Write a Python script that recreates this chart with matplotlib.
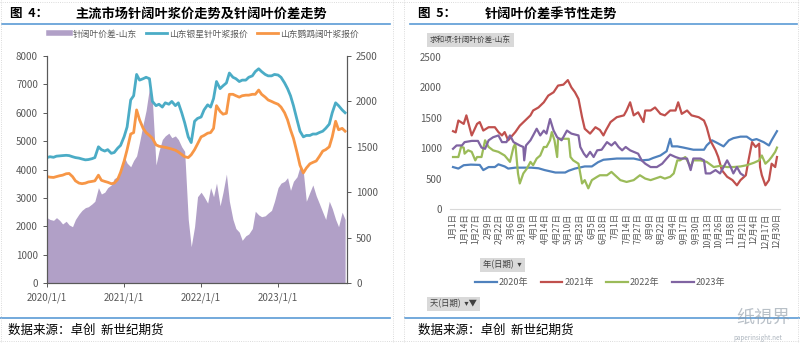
import matplotlib.pyplot as plt
from matplotlib.lines import Line2D
import pandas as pd

plt.rcParams['font.family'] = ['Noto Sans CJK SC', 'DejaVu Sans']

# ---- 图4 数据 (半月取点, 2020/1/1 ~ 2023/11/15)
dates = pd.date_range('2020-01-01', '2023-11-15', freq='SMS')

yinxing = [  # 山东银星针叶浆报价
    4420, 4450, 4430, 4470, 4480, 4490, 4500, 4490, 4450, 4420, 4400, 4370,
    4340, 4350, 4380, 4420, 4800, 4700, 4650, 4700, 4570, 4600, 4750, 4850,
    5160, 5500, 6450, 6600, 7350, 7150, 7200, 7250, 7200, 6400, 6250, 6300,
    6200, 6350, 6300, 6400, 6250, 6350, 6000, 5650, 5150, 4950, 5700, 5800,
    5850, 6100, 6280, 6200, 6500, 7100, 6850, 6950, 7050, 7400, 7250, 7200,
    7100, 7150, 7150, 7250, 7300, 7450, 7550, 7450, 7350, 7300, 7300, 7350,
    7330, 7250, 7050, 6850, 6600, 6250, 5750, 5350, 5150, 5200, 5200, 5250,
    5250, 5300, 5350, 5450, 5600, 6000, 6350, 6250, 6100, 6000]
yingwu = [  # 山东鹦鹉阔叶浆报价
    3750, 3730, 3720, 3750, 3780, 3800, 3850, 3860, 3750, 3600, 3520, 3500,
    3520, 3560, 3580, 3600, 3800, 3620, 3580, 3550, 3500, 3520, 3650, 3900,
    4300, 4700, 5250, 5300, 6100, 5750, 5450, 5300, 5200, 5100, 4870, 4820,
    4800, 4780, 4750, 4720, 4680, 4620, 4530, 4450, 4420, 4520, 4700, 4900,
    5150, 5200, 5280, 5300, 5450, 6250, 6050, 5950, 5980, 6650, 6650, 6600,
    6550, 6600, 6620, 6620, 6650, 6650, 6800, 6650, 6550, 6450, 6400, 6350,
    6300, 6200, 6000, 5750, 5400, 5100, 4600, 4150, 3880, 4050, 4200, 4250,
    4300, 4450, 4650, 4700, 4800, 5150, 5700, 5400, 5450, 5350]
spread = [  # 针阔叶价差-山东 (右轴)
    720, 700, 690, 720, 690, 650, 680, 640, 620, 700, 760, 800,
    830, 840, 870, 900, 1050, 980, 1000, 1050, 1080, 1150, 1170, 1250,
    1390, 1320, 1280, 1350, 1400, 1550, 1750, 1900, 2150, 2000, 1300, 1450,
    1580, 1620, 1650, 1600, 1620, 1580, 1500, 1450, 700, 400, 620, 950,
    1000, 950, 880, 1050, 950, 1100, 850, 1000, 1200, 900, 700, 600,
    560, 470, 520, 540, 600, 790, 750, 730, 740, 770, 800, 900,
    1050, 1100, 1120, 1160, 1020, 1120, 1170, 1280, 1220, 900, 1000, 1080,
    960, 880, 780, 700, 900, 820, 700, 620, 780, 700]
year_ticks = ['2020-01-01', '2021-01-01', '2022-01-01', '2023-01-01']
year_labels = ['2020/1/1', '2021/1/1', '2022/1/1', '2023/1/1']

# ---- 图5 数据 (日序号, 价差)
s2020 = [(0, 690), (6, 665), (12, 720), (20, 730), (30, 725), (34, 640), (40, 690),
         (47, 690), (51, 735), (58, 700), (62, 665), (70, 680), (80, 680), (88, 680),
         (96, 670), (103, 640), (115, 600), (126, 600), (130, 630), (137, 665),
         (148, 700), (156, 700), (163, 770), (169, 810), (184, 830), (203, 830),
         (212, 800), (220, 810), (225, 840), (233, 880), (240, 950), (244, 1155),
         (246, 1030), (252, 1030), (259, 1010), (270, 975), (282, 975), (285, 1045),
         (291, 1130), (297, 1085), (304, 1030), (310, 1130), (315, 1165), (323, 1190),
         (330, 1190), (336, 1130), (341, 1150), (349, 1100), (355, 1045), (358, 1130),
         (364, 1280)]
s2021 = [(0, 1280), (3, 1260), (6, 1455), (12, 1400), (15, 1540), (21, 1210), (27, 1400),
         (30, 1430), (34, 1290), (40, 1345), (47, 1345), (51, 1265), (55, 1210), (58, 1265),
         (62, 1130), (70, 1265), (75, 1370), (81, 1455), (87, 1540), (90, 1620), (96, 1670),
         (102, 1755), (107, 1865), (113, 1920), (118, 2030), (124, 2045), (129, 2120),
         (133, 2000), (137, 1920), (141, 1810), (145, 1510), (148, 1320), (154, 1240),
         (160, 1345), (165, 1300), (169, 1210), (172, 1300), (177, 1430), (184, 1510),
         (192, 1540), (195, 1620), (199, 1755), (203, 1540), (208, 1590), (214, 1430),
         (216, 1620), (222, 1620), (227, 1670), (233, 1565), (238, 1540), (244, 1620),
         (250, 1620), (253, 1755), (257, 1565), (263, 1620), (268, 1540), (276, 1510),
         (282, 1455), (285, 1345), (289, 1130), (295, 965), (298, 855), (302, 640),
         (308, 530), (314, 475), (319, 390), (323, 475), (329, 555), (332, 800),
         (336, 1100), (340, 1020), (344, 1075), (345, 690), (347, 555), (351, 390),
         (355, 475), (358, 745), (362, 690), (364, 855)]
s2022 = [(0, 855), (6, 855), (9, 1020), (12, 1010), (13, 910), (17, 965), (21, 940),
         (25, 800), (27, 855), (32, 855), (36, 1130), (40, 1020), (45, 965), (51, 940),
         (58, 880), (64, 775), (68, 1020), (70, 1075), (72, 745), (73, 585), (75, 420),
         (79, 585), (83, 665), (87, 775), (90, 720), (94, 830), (98, 880), (102, 1020),
         (105, 1020), (109, 1130), (111, 1265), (114, 1130), (117, 855), (118, 1155),
         (124, 1155), (130, 1155), (132, 855), (135, 800), (141, 745), (145, 420),
         (148, 475), (152, 340), (156, 475), (162, 530), (165, 555), (173, 555),
         (178, 610), (182, 555), (188, 475), (195, 445), (203, 475), (210, 555),
         (216, 500), (222, 475), (227, 500), (233, 530), (238, 500), (244, 530),
         (248, 585), (252, 800), (255, 800), (261, 855), (267, 690), (270, 800),
         (278, 800), (285, 775), (293, 690), (300, 710), (308, 690), (315, 690),
         (323, 700), (330, 720), (338, 760), (344, 800), (347, 880), (351, 745),
         (355, 800), (358, 855), (362, 940), (364, 1010)]
s2023 = [(0, 990), (4, 1045), (10, 1045), (13, 1100), (21, 1120), (28, 1120), (32, 1010),
         (36, 990), (40, 1130), (45, 1180), (51, 1210), (55, 1100), (60, 1100), (64, 1210),
         (68, 1100), (75, 1045), (79, 1020), (80, 800), (82, 1045), (87, 1130), (90, 1210),
         (94, 1320), (98, 1210), (102, 1290), (105, 1240), (109, 1480), (113, 1290),
         (117, 1180), (122, 1130), (128, 1290), (133, 1240), (141, 1210), (143, 1020),
         (147, 910), (150, 855), (154, 940), (158, 855), (162, 965), (167, 975),
         (173, 1100), (178, 1045), (182, 1100), (186, 1020), (190, 965), (194, 1020),
         (199, 965), (203, 940), (208, 910), (212, 800), (216, 745), (222, 690),
         (229, 690), (235, 745), (240, 830), (244, 895), (250, 855), (255, 830),
         (263, 830), (267, 640), (270, 830), (278, 830), (282, 800), (284, 585),
         (289, 585), (295, 640), (300, 585), (304, 690), (308, 800), (312, 690),
         (315, 585), (319, 690), (323, 585), (326, 555)]
season = {'2020年': s2020, '2021年': s2021, '2022年': s2022, '2023年': s2023}
day_labels = ['1月1日', '1月14日', '1月27日', '2月9日', '2月22日', '3月6日', '3月19日',
              '4月1日', '4月14日', '4月27日', '5月10日', '5月23日', '6月5日', '6月18日',
              '7月1日', '7月14日', '7月27日', '8月9日', '8月22日', '9月4日', '9月17日',
              '9月30日', '10月13日', '10月26日', '11月8日', '11月21日', '12月4日',
              '12月17日', '12月30日']

GRAY = '#595959'
W, H = 800, 343


def fx(px):
    return px / W


def fy(py):
    return 1 - py / H


fig = plt.figure(figsize=(8, 3.43), dpi=100)

# ---------------- 图4 ----------------
ax = fig.add_axes([fx(47), fy(283), (347 - 47) / W, (283 - 56) / H])
ax2 = ax.twinx()
ax2.fill_between(dates, spread, 0, color='#b1a0c7', lw=0)
ax.plot(dates, yinxing, color='#4bacc6', lw=2)
ax.plot(dates, yingwu, color='#f79646', lw=2)
ax.set_zorder(ax2.get_zorder() + 1)
ax.patch.set_visible(False)

ax.set_xlim(pd.Timestamp('2020-01-01'), pd.Timestamp('2023-11-24'))
ax.set_ylim(0, 8000)
ax2.set_ylim(0, 2500)
ax.set_yticks(range(0, 8001, 1000))
ax2.set_yticks(range(0, 2501, 500))
ax.set_xticks(pd.to_datetime(year_ticks))
ax.set_xticklabels(year_labels)
for a in (ax, ax2):
    a.tick_params(labelsize=7, labelcolor=GRAY, color=GRAY, length=3, width=0.7)
    a.spines['top'].set_visible(False)
    for s in ('left', 'right', 'bottom'):
        a.spines[s].set_color(GRAY)
        a.spines[s].set_linewidth(0.8)

handles = [Line2D([], [], color='#b1a0c7', lw=4),
           Line2D([], [], color='#4bacc6', lw=2),
           Line2D([], [], color='#f79646', lw=2)]
fig.legend(handles, ['针阔叶价差-山东', '山东银星针叶浆报价', '山东鹦鹉阔叶浆报价'],
           loc='center', bbox_to_anchor=(fx(204), fy(34)), ncol=3, frameon=False,
           fontsize=6.3, labelcolor=GRAY, handlelength=2.4, handletextpad=0.3,
           columnspacing=1.0)

fig.text(fx(10), fy(14), '图  4：', fontsize=9, weight='bold', va='center')
fig.text(fx(75), fy(14), '主流市场针阔叶浆价走势及针阔叶价差走势', fontsize=9.5,
         weight='bold', va='center')
fig.text(fx(8), fy(330), '数据来源：卓创  新世纪期货', fontsize=9, va='center')

# ---------------- 图5 ----------------
bx = fig.add_axes([fx(450), fy(209), (780 - 450) / W, (209 - 57) / H])
colors = ['#4f81bd', '#c0504d', '#9bbb59', '#8064a2']
for (name, pts), c in zip(season.items(), colors):
    d = [p[0] for p in pts]
    v = [p[1] for p in pts]
    bx.plot(d, v, color=c, lw=1.6, label=name)
bx.set_xlim(-3.4, 367.4)
bx.set_ylim(0, 2500)
bx.set_yticks(range(0, 2501, 500))
bx.set_xticks(range(0, 365, 13))
bx.set_xticklabels(day_labels, rotation=90)
bx.tick_params(axis='x', labelsize=6, labelcolor=GRAY, length=0, pad=3)
bx.tick_params(axis='y', labelsize=7, labelcolor=GRAY, length=0, pad=6)
for s in ('top', 'right', 'left'):
    bx.spines[s].set_visible(False)
bx.spines['bottom'].set_color('#d9d9d9')

fig.legend(*bx.get_legend_handles_labels(), loc='center',
           bbox_to_anchor=(fx(600), fy(283)), ncol=4, frameon=False, fontsize=6.5,
           labelcolor=GRAY, handlelength=2.4, handletextpad=0.2, columnspacing=1.4)

btn = dict(boxstyle='square,pad=0.35', facecolor='#d9d9d9', edgecolor='none')
fig.text(fx(430), fy(40), '求和项:针阔叶价差-山东', fontsize=5.5, color='#404040',
         va='center', bbox=btn)
fig.text(fx(483), fy(265), '年(日期)  ▾', fontsize=6, color='#404040',
         va='center', bbox=btn, family=['Noto Sans CJK SC', 'DejaVu Sans'])
fig.text(fx(430), fy(304), '天(日期)  ▾▼', fontsize=6, color='#404040',
         va='center', bbox=btn, family=['Noto Sans CJK SC', 'DejaVu Sans'])

fig.text(fx(418), fy(14), '图  5：', fontsize=9, weight='bold', va='center')
fig.text(fx(485), fy(14), '针阔叶价差季节性走势', fontsize=9.5, weight='bold',
         va='center')
fig.text(fx(418), fy(330), '数据来源：卓创  新世纪期货', fontsize=9, va='center')

# 水印
fig.text(fx(736), fy(318), '纸視界', fontsize=13, color='#8a96a3', alpha=0.6,
         va='center')
fig.text(fx(733), fy(338), 'paperinsight.net', fontsize=4.5, color='#8a96a3',
         alpha=0.7, va='center')

# 分隔线
for x0, x1 in ((2, 390), (410, 797)):
    fig.add_artist(Line2D([fx(x0), fx(x1)], [fy(24), fy(24)], color='#5b9bd5', lw=1.2))
for x0, x1 in ((0, 390), (405, 800)):
    fig.add_artist(Line2D([fx(x0), fx(x1)], [fy(318), fy(318)], color='#5b9bd5', lw=1.2))
for x in (1, 393, 404, 798):
    fig.add_artist(Line2D([fx(x), fx(x)], [0, 1], color='#cfcfcf', lw=0.6, ls=':'))
for y in (2, 341):
    fig.add_artist(Line2D([0, 1], [fy(y), fy(y)], color='#cfcfcf', lw=0.6, ls=':'))

fig.savefig('out.png', dpi=100)
